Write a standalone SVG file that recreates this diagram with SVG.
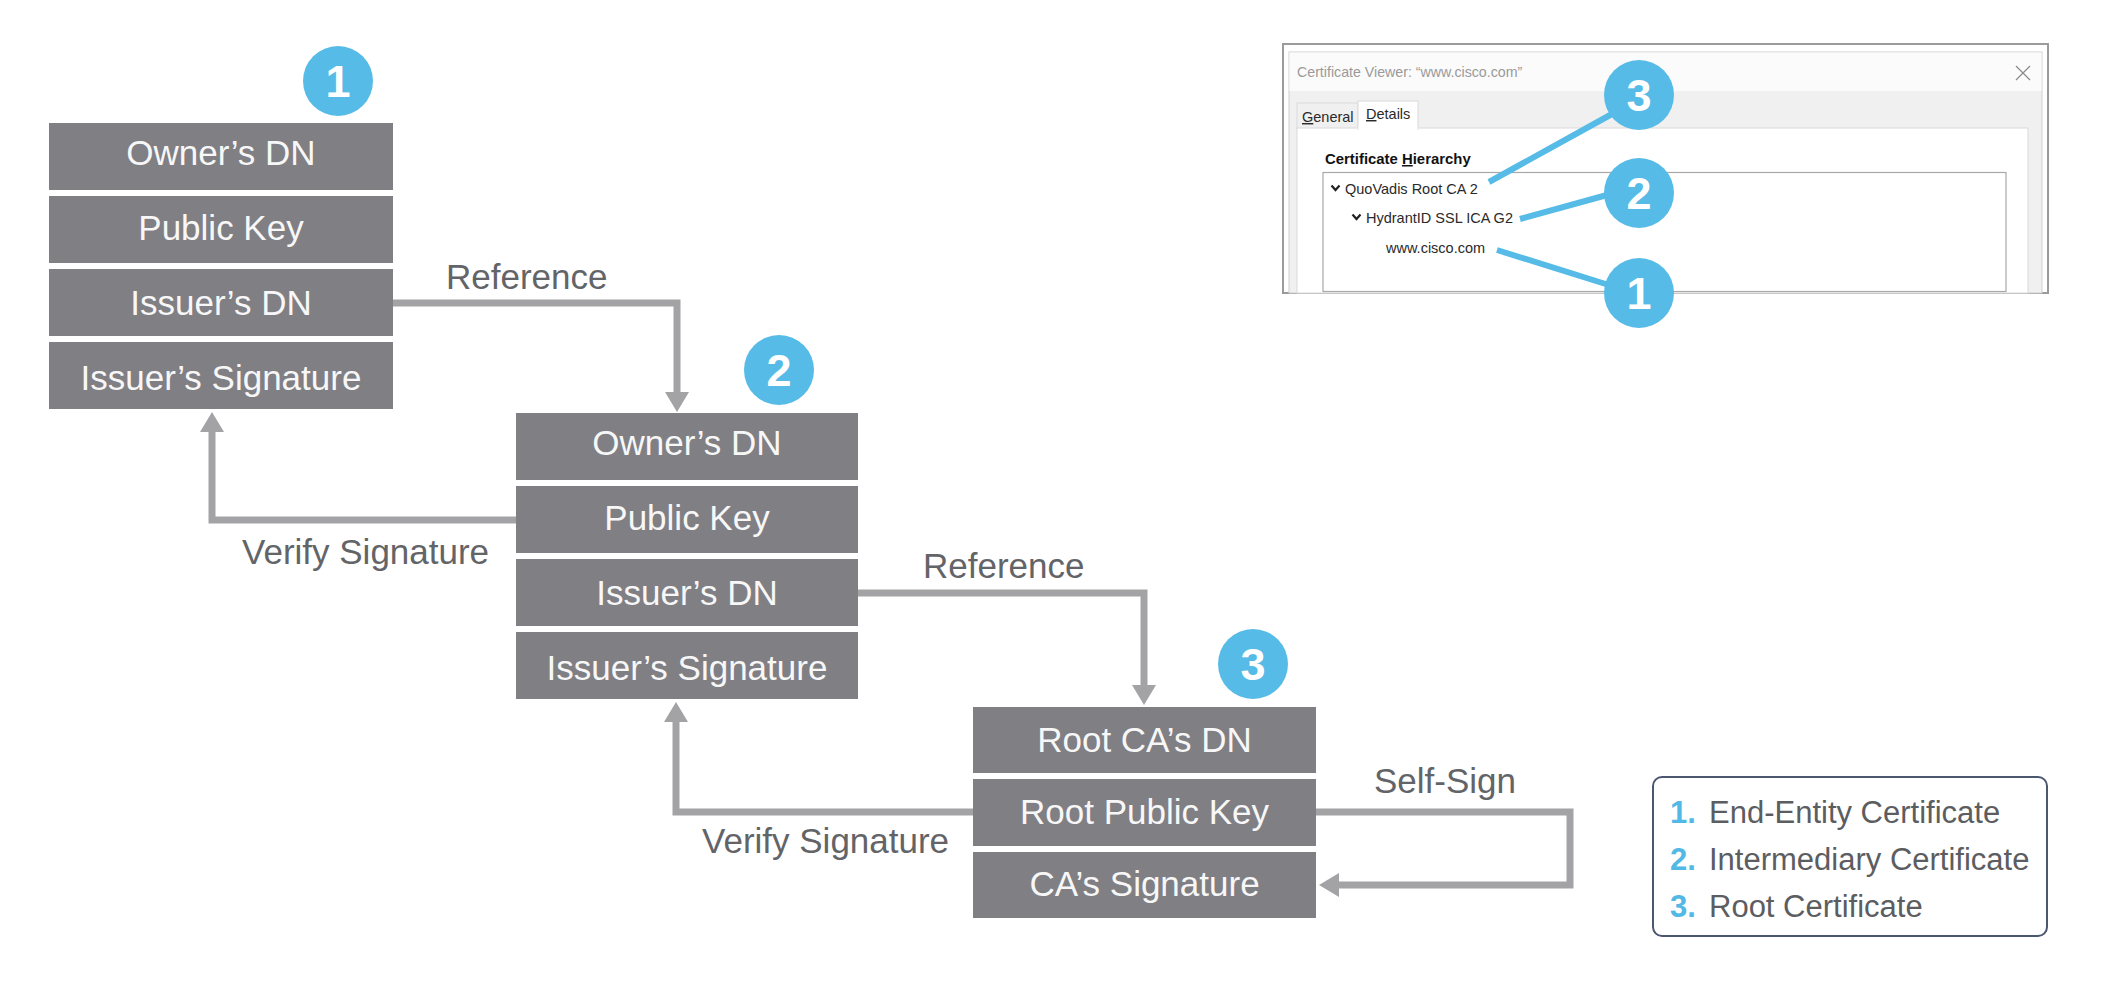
<svg xmlns="http://www.w3.org/2000/svg" width="2122" height="984" viewBox="0 0 2122 984">
<style>
.row{fill:#807f84}
.rt{font-family:"Liberation Sans",Arial,sans-serif;font-size:35px;fill:#f7f7f7;text-anchor:middle}
.lbl{font-family:"Liberation Sans",Arial,sans-serif;font-size:35px;fill:#636468}
.conn{fill:none;stroke:#a3a3a5;stroke-width:7;stroke-linejoin:miter}
.badge{fill:#56bbe6}
.bt{font-family:"Liberation Sans",Arial,sans-serif;font-size:45px;font-weight:bold;fill:#ffffff;text-anchor:middle}
.ss{font-family:"Liberation Sans",Arial,sans-serif;font-size:14.5px;fill:#2a2a2a}
.callout{stroke:#56bbe6;stroke-width:6;fill:none}
.lgn{font-family:"Liberation Sans",Arial,sans-serif;font-size:31px;font-weight:bold;fill:#52b8e6}
.lgt{font-family:"Liberation Sans",Arial,sans-serif;font-size:31px;fill:#5c5d61}
</style>
<defs>
<marker id="ah" markerUnits="userSpaceOnUse" markerWidth="20" markerHeight="24" refX="0" refY="12" orient="auto">
<path d="M0,0 L20,12 L0,24 z" fill="#a3a3a5"/>
</marker>
</defs>
<rect width="2122" height="984" fill="#ffffff"/>

<g id="connectors">
<path class="conn" d="M393 303 H677 V392" marker-end="url(#ah)"/>
<path class="conn" d="M516 520 H212 V432" marker-end="url(#ah)"/>
<path class="conn" d="M858 593 H1144 V685" marker-end="url(#ah)"/>
<path class="conn" d="M973 812 H676 V722" marker-end="url(#ah)"/>
<path class="conn" d="M1316 812 H1570 V885 H1339" marker-end="url(#ah)"/>
<text class="lbl" x="446" y="289">Reference</text>
<text class="lbl" x="242" y="564">Verify Signature</text>
<text class="lbl" x="923" y="578">Reference</text>
<text class="lbl" x="702" y="853">Verify Signature</text>
<text class="lbl" x="1374" y="793">Self-Sign</text>
</g>

<g id="cert1">
<rect class="row" x="49" y="123" width="344" height="67"/>
<rect class="row" x="49" y="196" width="344" height="67"/>
<rect class="row" x="49" y="269" width="344" height="67"/>
<rect class="row" x="49" y="342" width="344" height="67"/>
<text class="rt" x="221" y="165">Owner’s DN</text>
<text class="rt" x="221" y="240">Public Key</text>
<text class="rt" x="221" y="315">Issuer’s DN</text>
<text class="rt" x="221" y="390">Issuer’s Signature</text>
<circle class="badge" cx="338" cy="81" r="35"/>
<text class="bt" x="338" y="97">1</text>
</g>

<g id="cert2">
<rect class="row" x="516" y="413" width="342" height="67"/>
<rect class="row" x="516" y="486" width="342" height="67"/>
<rect class="row" x="516" y="559" width="342" height="67"/>
<rect class="row" x="516" y="632" width="342" height="67"/>
<text class="rt" x="687" y="455">Owner’s DN</text>
<text class="rt" x="687" y="530">Public Key</text>
<text class="rt" x="687" y="605">Issuer’s DN</text>
<text class="rt" x="687" y="680">Issuer’s Signature</text>
<circle class="badge" cx="779" cy="370" r="35"/>
<text class="bt" x="779" y="386">2</text>
</g>

<g id="cert3">
<rect class="row" x="973" y="707" width="343" height="66"/>
<rect class="row" x="973" y="779" width="343" height="67"/>
<rect class="row" x="973" y="852" width="343" height="66"/>
<text class="rt" x="1144.5" y="752">Root CA’s DN</text>
<text class="rt" x="1144.5" y="824">Root Public Key</text>
<text class="rt" x="1144.5" y="896">CA’s Signature</text>
<circle class="badge" cx="1253" cy="664" r="35"/>
<text class="bt" x="1253" y="680">3</text>
</g>

<g id="screenshot">
<rect x="1283" y="44" width="765" height="249" fill="#ffffff" stroke="#9b9b9b" stroke-width="2"/>
<rect x="1289" y="52" width="753" height="241" fill="#f0f0f0" stroke="#d0d0d0" stroke-width="1"/>
<rect x="1289.5" y="52.5" width="752" height="38.5" fill="#fbfbfb"/>
<text x="1297" y="77" font-family="'Liberation Sans',Arial,sans-serif" font-size="14.2" fill="#9a9a9a">Certificate Viewer: “www.cisco.com”</text>
<path d="M2016 66 L2030 80 M2030 66 L2016 80" stroke="#8a8a8a" stroke-width="1.2"/>
<rect x="1297" y="103" width="61" height="26" fill="#f0f0f0" stroke="#d9d9d9" stroke-width="1"/>
<rect x="1297" y="128" width="731" height="165" fill="#ffffff" stroke="#d9d9d9" stroke-width="1"/>
<rect x="1358" y="101" width="60" height="28" fill="#ffffff" stroke="#d9d9d9" stroke-width="1"/>
<rect x="1358.5" y="127" width="59" height="3" fill="#ffffff"/>
<text class="ss" x="1302" y="122"><tspan text-decoration="underline">G</tspan>eneral</text>
<text class="ss" x="1366" y="119"><tspan text-decoration="underline">D</tspan>etails</text>
<text x="1325" y="164" font-family="'Liberation Sans',Arial,sans-serif" font-size="14.9" font-weight="bold" fill="#111111">Certificate <tspan text-decoration="underline">H</tspan>ierarchy</text>
<rect x="1323" y="172.5" width="683" height="119" fill="#ffffff" stroke="#a8a8a8" stroke-width="1.2"/>
<path d="M1331.5 185.5 L1335.5 190 L1339.5 185.5" fill="none" stroke="#222" stroke-width="2.2"/>
<text class="ss" x="1345" y="194">QuoVadis Root CA 2</text>
<path d="M1352.5 214.5 L1356.5 219 L1360.5 214.5" fill="none" stroke="#222" stroke-width="2.2"/>
<text class="ss" x="1366" y="223" font-size="14.2">HydrantID SSL ICA G2</text>
<text class="ss" x="1386" y="253" font-size="13.6">www.cisco.com</text>
</g>

<g id="callouts">
<line class="callout" x1="1489" y1="182" x2="1612" y2="114"/>
<line class="callout" x1="1520" y1="219" x2="1607" y2="195"/>
<line class="callout" x1="1497" y1="250" x2="1612" y2="286"/>
<circle class="badge" cx="1639" cy="95" r="35"/>
<text class="bt" x="1639" y="111">3</text>
<circle class="badge" cx="1639" cy="193" r="35"/>
<text class="bt" x="1639" y="209">2</text>
<circle class="badge" cx="1639" cy="293" r="35"/>
<text class="bt" x="1639" y="309">1</text>
</g>

<g id="legend">
<rect x="1653" y="777" width="394" height="159" rx="9" fill="#ffffff" stroke="#4b5670" stroke-width="2"/>
<text class="lgn" x="1670" y="823">1.</text>
<text class="lgt" x="1709" y="823">End-Entity Certificate</text>
<text class="lgn" x="1670" y="870">2.</text>
<text class="lgt" x="1709" y="870">Intermediary Certificate</text>
<text class="lgn" x="1670" y="917">3.</text>
<text class="lgt" x="1709" y="917">Root Certificate</text>
</g>
</svg>
